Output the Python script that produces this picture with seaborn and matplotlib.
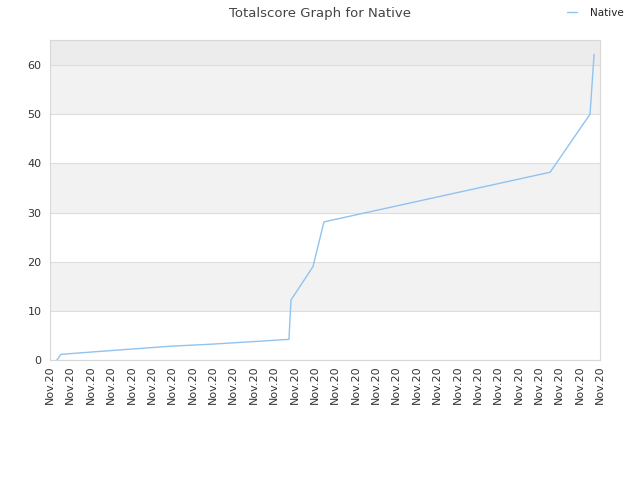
import matplotlib
matplotlib.use("Agg")
import matplotlib.pyplot as plt
import pandas as pd
import seaborn as sns
import numpy as np

# values
x_pos = [0.34, 0.54, 1.96, 3.93, 5.89, 7.85, 9.82, 11.73, 11.83, 12.91, 13.45, 24.55, 26.51, 26.71]
score = [0.0, 1.15, 1.6, 2.2, 2.8, 3.2, 3.7, 4.2, 12.2, 19.0, 28.1, 38.2, 50.0, 62.2]
tick_labels = ["Nov.20"] * 28

df = pd.DataFrame({"x": x_pos, "Totalscore": score, "Player": "Native"})

sns.set_style("white")
plt.rcParams['font.family'] = ['DejaVu Sans']

fig = plt.figure(figsize=(6.4, 4.8), dpi=100)
ax = fig.add_axes([50 / 640, 1 - 360 / 480, 550 / 640, 320 / 480])

# alternating background bands
for lo, hi, col in [(10, 20, "#f2f2f2"), (30, 40, "#f2f2f2"), (50, 60, "#f2f2f2"), (60, 70, "#ececec")]:
    ax.axhspan(lo, hi, color=col, zorder=0, lw=0)

sns.lineplot(data=df, x="x", y="Totalscore", hue="Player", palette=["#90c3f0"],
             linewidth=1.0, ax=ax, zorder=3)

ax.set_xlim(0, 27)
ax.set_ylim(0, 65.1)
ax.set_yticks([0, 10, 20, 30, 40, 50, 60])
ax.set_xticks(np.arange(len(tick_labels)))
ax.set_xticklabels(tick_labels, rotation=90, fontsize=8, color="#333333")
ax.tick_params(axis="y", labelsize=8, colors="#333333", length=0, pad=6)
ax.tick_params(axis="x", length=0, pad=4)
ax.grid(axis="y", color="#dddddd", linewidth=0.8, zorder=1)
ax.set_axisbelow(True)
for s in ax.spines.values():
    s.set_color("#d8d8d8")
    s.set_linewidth(0.8)
ax.set_xlabel("")
ax.set_ylabel("")

fig.suptitle("Totalscore Graph for Native", x=0.5, y=0.985, fontsize=9.5, color="#444444")
leg = ax.legend(loc="upper right", bbox_to_anchor=(1.06, 1.13), frameon=False, fontsize=7.5,
                handlelength=1.0, handletextpad=1.2)
for t in leg.get_texts():
    t.set_color("#222222")

fig.savefig("out.png", dpi=100)
